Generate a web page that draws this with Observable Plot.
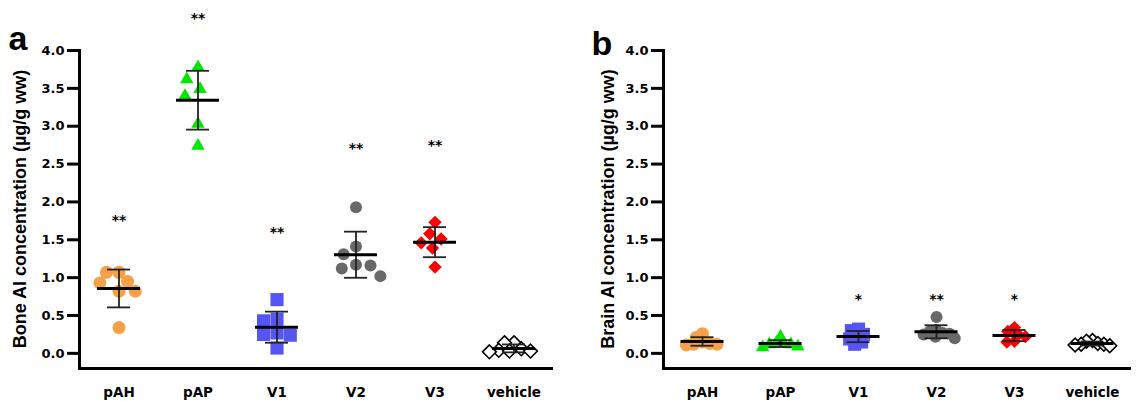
<!DOCTYPE html>
<html><head><meta charset="utf-8">
<script src="https://cdn.jsdelivr.net/npm/d3@7"></script>
<script src="https://cdn.jsdelivr.net/npm/@observablehq/plot@0.6"></script>
<style>
body{margin:0;background:#fff;width:1137px;height:401px;overflow:hidden}
#wrap{display:flex;width:1137px;height:401px}
#wrap svg{display:block}
.pp g text{font-family:'DejaVu Sans',sans-serif !important;font-weight:bold !important;font-size:13px !important}
.pp g[aria-label="fx-axis tick label"] text{font-size:13.5px !important}
.pp g[aria-label="text"] text{font-size:14px !important}
</style></head><body>
<div id="wrap"></div>
<script>
// ---- categories & styling per category
const groups = ["pAH", "pAP", "V1", "V2", "V3", "vehicle"];
const groupFill = ["#F8A047", "#00E800", "#5555F5", "#686868", "#FF0000", "#FFFFFF"];
const groupStroke = ["none", "none", "none", "none", "none", "#000000"];
const groupSymbol = ["circle", "triangle", "square", "circle", "diamond2", "diamond2"];
const groupR = [6.5, 5.0, 7.4, 6.0, 6.0, 6.2];
const yTicks = [0, 0.5, 1.0, 1.5, 2.0, 2.5, 3.0, 3.5, 4.0];

// ---- panel a: Bone Al concentration (µg/g ww)
const bone_pAH = [1.07, 1.07, 0.95, 0.93, 0.82, 0.82, 0.34];
const bone_pAP = [3.78, 3.62, 3.49, 3.40, 3.03, 2.74];
const bone_V1 = [0.71, 0.45, 0.43, 0.27, 0.25, 0.24, 0.07];
const bone_V2 = [1.93, 1.41, 1.31, 1.17, 1.16, 1.12, 1.02];
const bone_V3 = [1.73, 1.58, 1.51, 1.46, 1.39, 1.14];
const bone_vehicle = [0.14, 0.14, 0.06, 0.04, 0.03, 0.03, 0.02];
const boneStarGroups = ["pAH", "pAP", "V1", "V2", "V3"];
const boneStarLabels = ["**", "**", "**", "**", "**"];
const boneStarY = [1.76, 4.42, 1.60, 2.70, 2.74];

// ---- panel b: Brain Al concentration (µg/g ww)
const brain_pAH = [0.26, 0.21, 0.15, 0.13, 0.12, 0.12, 0.11];
const brain_pAP = [0.22, 0.14, 0.13, 0.12, 0.12, 0.09, 0.08];
const brain_V1 = [0.32, 0.30, 0.25, 0.22, 0.19, 0.15, 0.12];
const brain_V2 = [0.48, 0.31, 0.29, 0.27, 0.26, 0.25, 0.22, 0.20];
const brain_V3 = [0.34, 0.29, 0.25, 0.22, 0.16, 0.15];
const brain_vehicle = [0.17, 0.16, 0.13, 0.12, 0.12, 0.11, 0.10];
const brainStarGroups = ["V1", "V2", "V3"];
const brainStarLabels = ["*", "**", "*"];
const brainStarY = [0.71, 0.71, 0.71];

function buildPanel({series, starGroups, starLabels, starY, width, marginLeft, marginRight, layoutR,
                     meanInset, capInset, yLabel, labelX, letter, letterX, letterY}) {
  const stats = groups.map((g, i) => {
    const m = d3.mean(series[i]), s = d3.deviation(series[i]);
    return {group: g, mean: m, lo: m - s, hi: m + s};
  });
  const stars = starGroups.map((g, i) => ({group: g, label: starLabels[i], y: starY[i]}));
  // beeswarm layout; collision radius differs from drawn radius so markers may overlap, as in the original
  const dotMarks = groups.map((g, i) =>
    Plot.dot(series[i].map(v => ({group: g, value: v})), {
      ...Plot.dodgeX({
        anchor: "middle", padding: 0.5,
        fx: "group", y: "value", r: layoutR[i], symbol: groupSymbol[i],
        fill: groupFill[i], stroke: groupStroke[i], strokeWidth: 1.6
      }),
      r: groupR[i]
    })
  );
  const centre = () => 0;
  const chart = Plot.plot({
    width, height: 401, className: "pp",
    marginTop: 50, marginBottom: 33, marginLeft, marginRight,
    style: {fontFamily: "'DejaVu Sans', sans-serif", fontWeight: "bold", fontSize: "13px", color: "#000", background: "#fff", overflow: "visible"},
    fx: {domain: groups, padding: 0, label: null},
    x: {domain: [-1, 1], axis: null},
    y: {domain: [-0.2, 4.0]},
    marks: [
      Plot.axisFx({anchor: "bottom", tickSize: 0, tickPadding: 19, label: null, fontSize: 13.5}),
      Plot.axisY(yTicks, {tickSize: 12, tickPadding: 3, strokeWidth: 3, tickFormat: d3.format(".1f"), label: null, fontSize: 13}),
      Plot.frame({anchor: "left", facetAnchor: "left", strokeWidth: 3}),
      Plot.ruleY([-0.2], {strokeWidth: 3}),
      ...dotMarks,
      Plot.ruleX(stats, {fx: "group", x: centre, y1: "lo", y2: "hi", stroke: "#222", strokeWidth: 1.8}),
      Plot.tickY(stats, {fx: "group", y: "hi", stroke: "#222", strokeWidth: 1.8, inset: capInset}),
      Plot.tickY(stats, {fx: "group", y: "lo", stroke: "#222", strokeWidth: 1.8, inset: capInset}),
      Plot.tickY(stats, {fx: "group", y: "mean", stroke: "#000", strokeWidth: 3, inset: meanInset}),
      Plot.text(stars, {fx: "group", y: "y", text: "label", fontSize: 14, lineAnchor: "middle"})
    ]
  });
  const svg = d3.select(chart);
  svg.append("text")
    .attr("transform", `translate(${labelX},209) rotate(-90)`)
    .attr("text-anchor", "middle").attr("dominant-baseline", "central")
    .style("font-family", "'Liberation Sans', Arial, sans-serif").style("font-weight", "bold").style("font-size", "18px")
    .text(yLabel);
  svg.append("text")
    .attr("x", letterX).attr("y", letterY)
    .style("font-family", "'Liberation Sans', Arial, sans-serif").style("font-weight", "bold").style("font-size", "34px")
    .text(letter);
  return chart;
}

const wrap = document.getElementById("wrap");
wrap.appendChild(buildPanel({
  series: [bone_pAH, bone_pAP, bone_V1, bone_V2, bone_V3, bone_vehicle],
  starGroups: boneStarGroups, starLabels: boneStarLabels, starY: boneStarY,
  width: 568, marginLeft: 77, marginRight: 14, layoutR: [6, 8, 6.5, 7, 6, 4.5], meanInset: 18, capInset: 28,
  yLabel: "Bone Al concentration (µg/g ww)", labelX: 20, letter: "a", letterX: 18, letterY: 50
}));
wrap.appendChild(buildPanel({
  series: [brain_pAH, brain_pAP, brain_V1, brain_V2, brain_V3, brain_vehicle],
  starGroups: brainStarGroups, starLabels: brainStarLabels, starY: brainStarY,
  width: 569, marginLeft: 95, marginRight: 6, layoutR: [3.4, 3.4, 3.4, 3.2, 3.6, 2.8], meanInset: 17.5, capInset: 27.5,
  yLabel: "Brain Al concentration (µg/g ww)", labelX: 40, letter: "b", letterX: 34, letterY: 55
}));
</script>
</body></html>
